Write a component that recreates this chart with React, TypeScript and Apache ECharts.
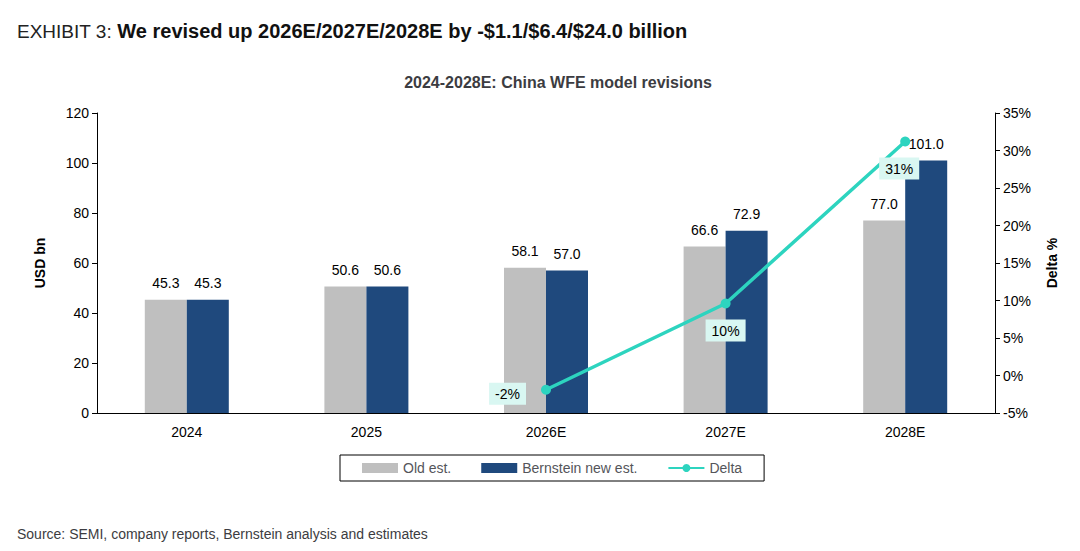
import React, { useEffect, useRef } from "react";
import * as echarts from "echarts";

const categories = ["2024", "2025", "2026E", "2027E", "2028E"];
const oldEst = [45.3, 50.6, 58.1, 66.6, 77.0];
const newEst = [45.3, 50.6, 57.0, 72.9, 101.0];
const delta = [null, null, -1.9, 9.6, 31.2];
const deltaLabels = ["", "", "-2%", "10%", "31%"];

export default function App() {
  const ref = useRef<HTMLDivElement>(null);
  useEffect(() => {
    const chart = echarts.init(ref.current!, null, { renderer: "svg" });
    const font = "Liberation Sans, Arial, sans-serif";
    const lblPos = ["left", "left", "left", "bottom", "bottom"];
    const lblOff = [[0, 0], [0, 0], [-10, 4], [0, 6], [-6, 6]];
    chart.setOption({
      animation: false,
      textStyle: { fontFamily: font, color: "#000" },
      title: [
        {
          text: "{l|EXHIBIT 3: }{b|We revised up 2026E/2027E/2028E by -$1.1/$6.4/$24.0 billion}",
          left: 4, top: 8,
          textStyle: { rich: { l: { fontSize: 19, fontWeight: 300, color: "#222", fontFamily: font }, b: { fontSize: 20, fontWeight: "bold", color: "#111", fontFamily: font } } },
        },
        { text: "2024-2028E: China WFE model revisions", left: 545, textAlign: "center", top: 61, textStyle: { fontSize: 16, fontWeight: "bold", fontFamily: font } },
        { text: "Source: SEMI, company reports, Bernstein analysis and estimates", left: 4, top: 514, textStyle: { fontSize: 14, fontWeight: "normal", fontFamily: font } },
      ],
      legend: {
        bottom: 62, left: 332, itemGap: 30, itemWidth: 36, itemHeight: 10,
        borderColor: "#000", borderWidth: 1, padding: [6, 22], borderRadius: 0,
        textStyle: { fontSize: 14, fontFamily: font },
        data: [
          { name: "Old est.", icon: "rect" },
          { name: "Bernstein new est.", icon: "rect" },
          { name: "Delta" },
        ],
      },
      grid: { left: 89, right: 77, top: 105, bottom: 130 },
      xAxis: {
        type: "category", data: categories,
        axisLine: { lineStyle: { color: "#000" } }, axisTick: { show: false },
        axisLabel: { fontSize: 14, color: "#000", margin: 12 },
      },
      yAxis: [
        {
          type: "value", min: 0, max: 120, interval: 20, name: "USD bn", nameLocation: "middle", nameGap: 50,
          nameTextStyle: { fontWeight: "bold", fontSize: 14 },
          axisLine: { show: true, lineStyle: { color: "#000" } }, axisTick: { show: true, lineStyle: { color: "#000" } },
          splitLine: { show: false }, axisLabel: { fontSize: 14, color: "#000" },
        },
        {
          type: "value", min: -5, max: 35, interval: 5, name: "Delta %", nameLocation: "middle", nameGap: 50,
          nameTextStyle: { fontWeight: "bold", fontSize: 14 },
          axisLine: { show: true, lineStyle: { color: "#000" } }, axisTick: { show: true, lineStyle: { color: "#000" } },
          splitLine: { show: false }, axisLabel: { fontSize: 14, color: "#000", formatter: "{value}%" },
        },
      ],
      series: [
        {
          name: "Old est.", type: "bar", data: oldEst, barWidth: 42, barGap: "0%", itemStyle: { color: "#bfbfbf" },
          label: { show: true, position: "top", fontSize: 14, color: "#000", distance: 10, formatter: (p: any) => p.value.toFixed(1) },
        },
        {
          name: "Bernstein new est.", type: "bar", data: newEst, barWidth: 42, itemStyle: { color: "#1f497d" },
          label: { show: true, position: "top", fontSize: 14, color: "#000", distance: 10, formatter: (p: any) => p.value.toFixed(1) },
        },
        {
          name: "Delta", type: "line", yAxisIndex: 1, symbol: "circle", symbolSize: 10,
          lineStyle: { color: "#2dd4bf", width: 3.5 }, itemStyle: { color: "#2dd4bf" },
          data: delta.map((v, i) => ({
            value: v,
            label: {
              show: v !== null, position: lblPos[i], offset: lblOff[i], formatter: deltaLabels[i],
              backgroundColor: "#d9f7f2", padding: [4, 6], fontSize: 14, color: "#000",
            },
          })),
        },
      ],
    });
    return () => chart.dispose();
  }, []);
  return <div ref={ref} style={{ width: 1064, height: 535 }} />;
}
